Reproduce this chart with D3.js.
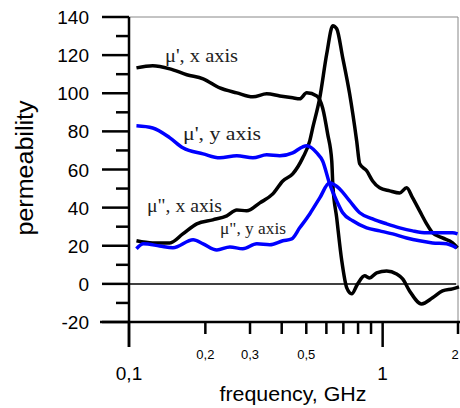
<!DOCTYPE html>
<html>
<head>
<meta charset="utf-8">
<script src="https://cdn.jsdelivr.net/npm/d3@7"></script>
<style>
  body { margin: 0; background: #fff; }
  svg { display: block; }
</style>
</head>
<body>
<svg id="chart" width="460" height="408"></svg>
<script>
// frequency in GHz, permeability values
var muRealX = [[0.107,113.3],[0.124,114.4],[0.145,112.8],[0.169,109.7],[0.196,107.6],[0.228,102.8],[0.266,100.2],
  [0.308,98.1],[0.349,99.7],[0.393,98.6],[0.442,97.6],[0.471,97.1],[0.502,100.2],[0.550,98.6],[0.580,92.3],
  [0.607,78.7],[0.630,64.5],[0.636,52.5],[0.659,34.6],[0.690,12.1],[0.722,-2.1],[0.755,-5.2],[0.797,0],
  [0.849,4.2],[0.889,3.1],[0.947,5.8],[1.037,6.8],[1.135,5.2],[1.199,2.6],[1.277,-3.7],[1.424,-10.5],
  [1.573,-7.3],[1.722,-3.7],[1.886,-2.6],[2.0,-1.6]];

var muImagX = [[0.107,22.6],[0.124,21.5],[0.145,21.5],[0.163,26.2],[0.185,31.5],[0.214,33.6],[0.243,35.7],
  [0.266,38.8],[0.291,38.3],[0.328,42.5],[0.369,47.2],[0.404,54.0],[0.442,57.7],[0.484,66.1],[0.516,75.0],
  [0.530,81.8],[0.565,97.6],[0.602,120.7],[0.636,135.4],[0.659,133.8],[0.696,118.6],[0.741,99.7],
  [0.790,75.0],[0.812,63.0],[0.865,59.3],[0.913,54.0],[0.973,50.4],[1.066,48.8],[1.167,47.7],[1.243,50.4],
  [1.313,45.1],[1.399,38.3],[1.491,31.5],[1.573,26.8],[1.722,24.1],[1.886,21.5],[1.974,18.9]];

var muRealY = [[0.107,82.9],[0.124,81.8],[0.145,76.6],[0.163,71.4],[0.196,68.2],[0.228,66.1],[0.266,67.2],
  [0.308,66.1],[0.349,67.7],[0.393,67.2],[0.442,68.7],[0.484,71.9],[0.502,72.4],[0.550,68.7],[0.580,64.5],
  [0.618,52.5],[0.659,43.5],[0.696,37.3],[0.762,33.1],[0.865,29.4],[0.973,27.8],[1.095,26.2],[1.243,24.1],
  [1.399,22.6],[1.573,21.5],[1.786,21.0],[1.956,18.9]];

var muImagY = [[0.107,18.4],[0.114,21.0],[0.132,19.9],[0.149,18.9],[0.179,23.1],[0.196,21.0],[0.222,17.8],
  [0.250,19.4],[0.281,18.4],[0.319,21.0],[0.359,20.5],[0.404,22.6],[0.438,23.6],[0.471,29.4],[0.516,36.7],
  [0.565,45.1],[0.618,53.0],[0.677,49.8],[0.741,43.5],[0.812,37.3],[0.913,34.1],[1.037,31.5],[1.167,29.4],
  [1.313,27.8],[1.491,26.8],[1.677,26.8],[1.886,26.8],[1.974,26.2]];

var yMajorTicks = [-20, 0, 20, 40, 60, 80, 100, 120, 140];
var yMinorTicks = [-10, 10, 30, 50, 70, 90, 110, 130];
var xMinorTicks = [0.2, 0.3, 0.4, 0.5, 0.6, 0.7, 0.8, 0.9, 2];
var xMajorTicks = [0.1, 1];
var xBigLabels = [[0.1, "0,1"], [1, "1"]];
var xSmallLabels = [[0.2, "0,2"], [0.3, "0,3"], [0.5, "0,5"], [2, "2"]];

var svg = d3.select("#chart");

var x = d3.scaleLog().domain([0.1, 2]).range([129, 459]);
var y = d3.scaleLinear().domain([-20, 140]).range([322, 17]);

// frame (thin grey top and right)
svg.append("path")
    .attr("d", "M" + x(0.1) + "," + y(140) + "H" + (x(2) - 1) + "V" + y(-20))
    .style("fill", "none")
    .style("stroke", "#888")
    .style("stroke-width", 1);

// zero line
svg.append("line")
    .attr("x1", x(0.1)).attr("x2", x(1.95))
    .attr("y1", y(0)).attr("y2", y(0))
    .style("stroke", "#000")
    .style("stroke-width", 1.5);

// y axis
svg.append("line")
    .attr("x1", x(0.1)).attr("x2", x(0.1))
    .attr("y1", y(140)).attr("y2", 347)
    .style("stroke", "#000").style("stroke-width", 2.5);

svg.selectAll(".ymaj").data(yMajorTicks).enter().append("line")
    .attr("x1", 102).attr("x2", x(0.1))
    .attr("y1", function(d){ return y(d); })
    .attr("y2", function(d){ return y(d); })
    .style("stroke", "#000").style("stroke-width", 2.5);

svg.selectAll(".ymin").data(yMinorTicks).enter().append("line")
    .attr("x1", 116).attr("x2", x(0.1))
    .attr("y1", function(d){ return y(d); })
    .attr("y2", function(d){ return y(d); })
    .style("stroke", "#000").style("stroke-width", 2.5);

svg.selectAll(".ylab").data(yMajorTicks).enter().append("text")
    .attr("x", 89)
    .attr("y", function(d){ return y(d) + 7; })
    .attr("text-anchor", "end")
    .style("font-family", "Arial, 'Liberation Sans', sans-serif")
    .style("font-size", "19px")
    .text(function(d){ return d; });

// x axis at the bottom
svg.append("line")
    .attr("x1", 100).attr("x2", 460)
    .attr("y1", y(-20)).attr("y2", y(-20))
    .style("stroke", "#000").style("stroke-width", 2.5);

svg.selectAll(".xmaj").data(xMajorTicks).enter().append("line")
    .attr("x1", function(d){ return x(d); })
    .attr("x2", function(d){ return x(d); })
    .attr("y1", y(-20)).attr("y2", 347)
    .style("stroke", "#000").style("stroke-width", 2.5);

svg.selectAll(".xmin").data(xMinorTicks).enter().append("line")
    .attr("x1", function(d){ return x(d) - (d == 2 ? 1 : 0); })
    .attr("x2", function(d){ return x(d) - (d == 2 ? 1 : 0); })
    .attr("y1", y(-20)).attr("y2", 334)
    .style("stroke", "#000").style("stroke-width", 2.5);

svg.selectAll(".xbig").data(xBigLabels).enter().append("text")
    .attr("x", function(d){ return x(d[0]); })
    .attr("y", 380)
    .attr("text-anchor", "middle")
    .style("font-family", "Arial, 'Liberation Sans', sans-serif")
    .style("font-size", "19px")
    .text(function(d){ return d[1]; });

svg.selectAll(".xsmall").data(xSmallLabels).enter().append("text")
    .attr("x", function(d){ return d[0] == 2 ? 455 : x(d[0]); })
    .attr("y", 359)
    .attr("text-anchor", "middle")
    .style("font-family", "Arial, 'Liberation Sans', sans-serif")
    .style("font-size", "13px")
    .text(function(d){ return d[1]; });

svg.append("text")
    .attr("x", 293).attr("y", 401)
    .attr("text-anchor", "middle")
    .attr("textLength", 147)
    .attr("lengthAdjust", "spacingAndGlyphs")
    .style("font-family", "Arial, 'Liberation Sans', sans-serif")
    .style("font-size", "20px")
    .text("frequency, GHz");

svg.append("text")
    .attr("transform", "translate(33,168) rotate(-90)")
    .attr("text-anchor", "middle")
    .attr("textLength", 135)
    .attr("lengthAdjust", "spacingAndGlyphs")
    .style("font-family", "Arial, 'Liberation Sans', sans-serif")
    .style("font-size", "23px")
    .text("permeability");

// curves
var line = d3.line()
    .x(function(d){ return x(d[0]); })
    .y(function(d){ return y(d[1]); })
    .curve(d3.curveMonotoneX);

var series = [
    {data: muRealX, color: "#000"},
    {data: muImagX, color: "#000"},
    {data: muRealY, color: "#0000ff"},
    {data: muImagY, color: "#0000ff"}
];

series.forEach(function(s){
    svg.append("path")
        .attr("d", line(s.data))
        .style("fill", "none")
        .style("stroke", s.color)
        .style("stroke-width", 3.5)
        .style("stroke-linejoin", "round");
});

// curve labels
var curveLabels = [
    {text: "\u03bc', x axis", x: 165, y: 62, len: 73, size: 18},
    {text: "\u03bc', y axis", x: 183, y: 140, len: 78, size: 18},
    {text: "\u03bc\", x axis", x: 147, y: 212, len: 75, size: 18},
    {text: "\u03bc\", y axis", x: 220, y: 234, len: 66, size: 16}
];

svg.selectAll(".clab").data(curveLabels).enter().append("text")
    .attr("x", function(d){ return d.x; })
    .attr("y", function(d){ return d.y; })
    .attr("textLength", function(d){ return d.len; })
    .attr("lengthAdjust", "spacingAndGlyphs")
    .style("font-family", "'Liberation Serif', 'Times New Roman', serif")
    .style("font-size", function(d){ return d.size + "px"; })
    .style("fill", "#222")
    .text(function(d){ return d.text; });
</script>
</body>
</html>
